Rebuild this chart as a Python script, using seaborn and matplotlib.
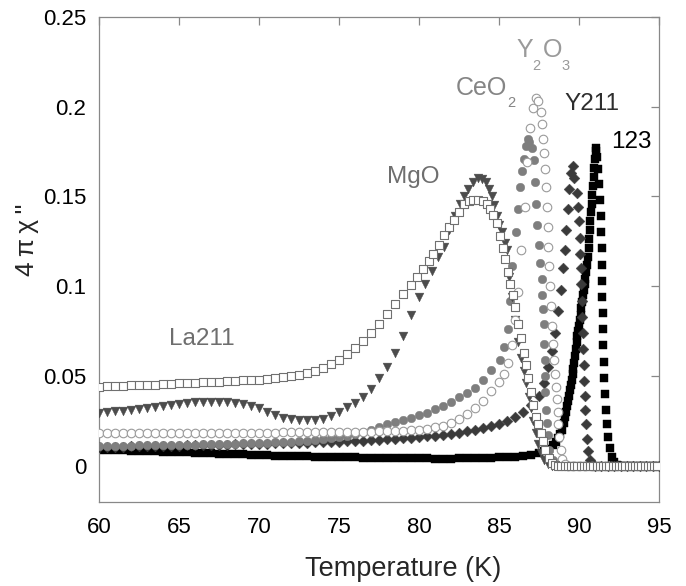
import matplotlib
matplotlib.use("Agg")
import matplotlib.pyplot as plt
import seaborn as sns

# ---- data: temperature (K) and 4*pi*chi'' ----
# 123 (black squares)
t_123 = [60.0, 60.5, 61.0, 61.5, 62.0, 62.5, 63.0, 63.5, 64.0, 64.5,
         65.0, 65.5, 66.0, 66.5, 67.0, 67.5, 68.0, 68.5, 69.0, 69.5,
         70.0, 70.5, 71.0, 71.5, 72.0, 72.5, 73.0, 73.5, 74.0, 74.5,
         75.0, 75.5, 76.0, 76.5, 77.0, 77.5, 78.0, 78.5, 79.0, 79.5,
         80.0, 80.5, 81.0, 81.5, 82.0, 82.5, 83.0, 83.5, 84.0, 84.5,
         85.0, 85.5, 86.0, 86.5, 87.0, 87.5,
         87.8, 88.1, 88.35, 88.55, 88.7, 88.82, 88.94,
         89.05, 89.13, 89.2, 89.27, 89.33, 89.39, 89.45, 89.5, 89.55, 89.6,
         89.65, 89.7, 89.75, 89.8, 89.85, 89.9, 89.95, 90.0, 90.05, 90.1,
         90.15, 90.2, 90.25, 90.3, 90.35, 90.4, 90.45, 90.5, 90.55, 90.6,
         90.64, 90.68, 90.72, 90.76, 90.8, 90.84, 90.88, 90.92, 90.96, 91.0,
         91.04, 91.08,
         91.15, 91.22, 91.28, 91.32, 91.36, 91.39, 91.41, 91.43, 91.45, 91.47,
         91.49, 91.51, 91.53, 91.55, 91.58, 91.62, 91.67, 91.74, 91.82, 91.92,
         92.04, 92.18, 92.35, 92.6, 93.0, 93.4, 93.8, 94.2, 94.6, 95.0]
chi_123 = [.0089, .0088, .0087, .0086, .0084, .0083, .0081, .0080, .0078, .0077,
           .0075, .0074, .0072, .0071, .0069, .0068, .0066, .0065, .0063, .0062,
           .0060, .0059, .0057, .0056, .0055, .0054, .0052, .0051, .0050, .0049,
           .0048, .0047, .0046, .0045, .0044, .0043, .0043, .0042, .0042, .0041,
           .0041, .0041, .0040, .0040, .0040, .0041, .0041, .0042, .0043, .0044,
           .0046, .0048, .0051, .0055, .0061, .0070,
           .0080, .0095, .0115, .0135, .0155, .0175, .020,
           .024, .027, .030, .033, .036, .039, .042, .045, .048, .051,
           .054, .057, .061, .065, .069, .072, .075, .078, .081, .084,
           .088, .091, .095, .098, .101, .104, .108, .112, .116, .121,
           .126, .131, .136, .141, .146, .151, .156, .161, .166, .171,
           .175, .177,
           .172, .165, .157, .148, .139, .130, .121, .112, .103, .094,
           .085, .076, .067, .058, .049, .040, .031, .023, .016, .010,
           .005, .002, .0005, 0, 0, 0, 0, 0, 0, 0]

# Y211 (dark diamonds)
t_y211 = [60.0, 60.5, 61.0, 61.5, 62.0, 62.5, 63.0, 63.5, 64.0, 64.5,
          65.0, 65.5, 66.0, 66.5, 67.0, 67.5, 68.0, 68.5, 69.0, 69.5,
          70.0, 70.5, 71.0, 71.5, 72.0, 72.5, 73.0, 73.5, 74.0, 74.5,
          75.0, 75.5, 76.0, 76.5, 77.0, 77.5, 78.0, 78.5, 79.0, 79.5,
          80.0, 80.5, 81.0, 81.5, 82.0, 82.5, 83.0, 83.5, 84.0, 84.5,
          85.0, 85.5, 86.0, 86.5, 87.0, 87.5,
          87.8, 88.05, 88.3, 88.5, 88.7, 88.85, 89.0, 89.1, 89.2, 89.3,
          89.4, 89.5, 89.6, 89.72, 89.85, 89.95, 90.0, 90.05, 90.08, 90.12,
          90.15, 90.18, 90.2, 90.23, 90.26, 90.29, 90.32, 90.35, 90.39, 90.43,
          90.5, 90.58, 90.7, 90.85, 91.0, 91.4, 91.8, 92.2, 92.6, 93.0,
          93.4, 93.8, 94.2, 94.6, 95.0]
chi_y211 = [.0106, .0106, .0107, .0107, .0108, .0108, .0109, .0109, .0110, .0111,
            .0112, .0113, .0114, .0115, .0116, .0117, .0118, .0119, .0120, .0121,
            .0122, .0123, .0124, .0125, .0126, .0127, .0128, .0130, .0131, .0133,
            .0134, .0136, .0138, .0140, .0142, .0144, .0147, .0150, .0153, .0156,
            .0160, .0164, .0168, .0173, .0178, .0184, .0191, .0199, .0208, .0220,
            .0233, .0250, .0270, .0300, .0340, .0390,
            .046, .055, .064, .074, .086, .098, .110, .120, .131, .143,
            .154, .163, .167, .160, .152, .144, .136, .127, .118, .110,
            .101, .092, .083, .074, .065, .056, .047, .039, .031, .023,
            .015, .008, .003, .0005, 0, 0, 0, 0, 0, 0,
            0, 0, 0, 0, 0]

# CeO2 (grey filled circles)
t_ceo2 = [60.0, 60.5, 61.0, 61.5, 62.0, 62.5, 63.0, 63.5, 64.0, 64.5,
          65.0, 65.5, 66.0, 66.5, 67.0, 67.5, 68.0, 68.5, 69.0, 69.5,
          70.0, 70.5, 71.0, 71.5, 72.0, 72.5, 73.0, 73.5, 74.0, 74.5,
          75.0, 75.5, 76.0, 76.5, 77.0, 77.5, 78.0, 78.5, 79.0, 79.5,
          80.0, 80.5, 81.0, 81.5, 82.0, 82.5, 83.0, 83.5, 84.0, 84.5,
          85.05, 85.3, 85.55, 85.7, 85.8, 86.05, 86.2, 86.3, 86.45, 86.55,
          86.7, 86.8, 86.9, 87.05, 87.2, 87.27, 87.33, 87.4, 87.5, 87.58,
          87.66, 87.7, 87.75, 87.8, 87.82, 87.85, 87.88, 87.9, 87.93, 88.0,
          88.05, 88.15, 88.35, 88.6, 88.9, 89.3, 89.7, 90.1, 90.5, 90.9,
          91.3, 91.7, 92.1, 92.5, 92.9, 93.3, 93.7, 94.1, 94.5, 94.9]
chi_ceo2 = [.0110, .0111, .0111, .0112, .0112, .0113, .0114, .0115, .0115, .0116,
            .0117, .0118, .0118, .0119, .0120, .0121, .0122, .0123, .0124, .0126,
            .0127, .0129, .0131, .0133, .0135, .0137, .0140, .0143, .0147, .0152,
            .0158, .0166, .0176, .0188, .0200, .0217, .0230, .0242, .0254, .0266,
            .0280, .0296, .0314, .0334, .0356, .0380, .0405, .0435, .0475, .0535,
            .059, .066, .076, .092, .111, .130, .143, .155, .164, .171,
            .178, .182, .180, .177, .170, .158, .146, .134, .123, .113,
            .104, .095, .087, .079, .068, .059, .050, .041, .031, .024,
            .017, .009, .003, .0005, 0, 0, 0, 0, 0, 0,
            0, 0, 0, 0, 0, 0, 0, 0, 0, 0]

# MgO (dark grey down triangles)
t_mgo = [60.0, 60.5, 61.0, 61.5, 62.0, 62.5, 63.0, 63.5, 64.0, 64.5,
         65.0, 65.5, 66.0, 66.5, 67.0, 67.5, 68.0, 68.5, 69.0, 69.5,
         70.0, 70.5, 71.0, 71.5, 72.0, 72.5, 73.0, 73.5, 74.0, 74.5,
         75.0, 75.5, 76.0, 76.5, 77.0, 77.5, 78.0, 78.5, 79.0, 79.5,
         80.0, 80.4, 80.8, 81.2, 81.55, 81.9, 82.25, 82.55, 82.8, 83.05,
         83.35, 83.7, 83.95, 84.2, 84.4, 84.55, 84.7, 84.85, 85.0, 85.2,
         85.35, 85.5, 85.65, 85.8, 86.0, 86.2, 86.4, 86.55, 86.7, 86.85,
         87.0, 87.15, 87.3, 87.45, 87.6, 87.8, 88.05, 88.3, 88.7, 89.1,
         89.5, 89.9, 90.3, 90.7, 91.1, 91.5, 91.9, 92.3, 92.7, 93.1,
         93.5, 93.9, 94.3, 94.7]
chi_mgo = [.0295, .0300, .0303, .0306, .0310, .0314, .0320, .0326, .0333, .0339,
           .0344, .0349, .0353, .0356, .0357, .0357, .0354, .0349, .0342, .0332,
           .0320, .0302, .0283, .0268, .0259, .0255, .0254, .0256, .0263, .0278,
           .0300, .0325, .0352, .0380, .0430, .0490, .0550, .0630, .0720, .0840,
           .094, .101, .1085, .116, .122, .131, .139, .146, .150, .154,
           .158, .160, .1595, .158, .154, .150, .145, .139, .134, .130,
           .124, .120, .105, .094, .081, .069, .060, .053, .046, .038,
           .032, .025, .018, .012, .007, .003, .001, 0, 0, 0,
           0, 0, 0, 0, 0, 0, 0, 0, 0, 0,
           0, 0, 0, 0]

# Y2O3 (open circles)
t_y2o3 = [60.0, 60.5, 61.0, 61.5, 62.0, 62.5, 63.0, 63.5, 64.0, 64.5,
          65.0, 65.5, 66.0, 66.5, 67.0, 67.5, 68.0, 68.5, 69.0, 69.5,
          70.0, 70.5, 71.0, 71.5, 72.0, 72.5, 73.0, 73.5, 74.0, 74.5,
          75.0, 75.5, 76.0, 76.5, 77.0, 77.5, 78.0, 78.5, 79.0, 79.5,
          80.0, 80.5, 81.0, 81.5, 82.0, 82.5, 83.0, 83.5, 84.0, 84.5,
          85.0,
          85.3, 85.55, 85.8, 86.0, 86.2, 86.4, 86.6, 86.78, 86.95, 87.1,
          87.3, 87.45, 87.6, 87.7, 87.76, 87.82, 87.88, 87.95, 88.0, 88.05,
          88.08, 88.13, 88.18, 88.23, 88.3, 88.37, 88.43, 88.5, 88.55, 88.6,
          88.66, 88.71, 88.77, 88.85, 88.95, 89.1, 89.3, 89.6, 90.0, 90.4,
          90.8, 91.2, 91.6, 92.0, 92.4, 92.8, 93.2, 93.6, 94.0, 94.4,
          94.8]
chi_y2o3 = [.0184, .0184, .0184, .0184, .0184, .0184, .0184, .0184, .0184, .0184,
            .0184, .0184, .0184, .0184, .0185, .0185, .0185, .0185, .0185, .0185,
            .0185, .0185, .0185, .0186, .0186, .0186, .0186, .0186, .0187, .0187,
            .0187, .0188, .0188, .0189, .0190, .0191, .0192, .0193, .0195, .0197,
            .0199, .0205, .0213, .0223, .0240, .0262, .0290, .0322, .0360, .0415,
            .0465,
            .051, .057, .067, .081, .097, .120, .144, .169, .188, .199,
            .205, .203, .197, .190, .182, .174, .165, .155, .144, .133,
            .122, .111, .100, .089, .078, .068, .059, .051, .044, .037,
            .030, .023, .016, .009, .004, .001, 0, 0, 0, 0,
            0, 0, 0, 0, 0, 0, 0, 0, 0, 0,
            0]

# La211 (open squares)
t_la211 = [60.0, 60.5, 61.0, 61.5, 62.0, 62.5, 63.0, 63.5, 64.0, 64.5,
           65.0, 65.5, 66.0, 66.5, 67.0, 67.5, 68.0, 68.5, 69.0, 69.5,
           70.0, 70.5, 71.0, 71.5, 72.0, 72.5, 73.0, 73.5, 74.0, 74.5,
           75.0, 75.5, 76.0, 76.5, 77.0, 77.5, 78.0, 78.5, 79.0, 79.5,
           79.9, 80.25, 80.6, 80.9, 81.25, 81.55, 81.85, 82.2, 82.5, 82.8,
           83.1, 83.4, 83.7, 84.0, 84.25, 84.45, 84.65, 84.85, 85.05, 85.25,
           85.4, 85.55, 85.7, 85.85, 86.0, 86.2, 86.4, 86.55, 86.67, 86.8,
           87.0, 87.15, 87.3, 87.45, 87.6, 87.75, 87.9, 88.1, 88.3, 88.5,
           88.7, 88.9, 89.1, 89.3, 89.5, 89.7, 89.9, 90.1, 90.3, 90.5,
           90.7, 90.9, 91.1, 91.3, 91.5, 91.7, 91.9, 92.1, 92.3, 92.5,
           92.7, 92.9, 93.1, 93.3, 93.5, 93.7, 93.9, 94.1, 94.3, 94.5,
           94.7, 94.9]
chi_la211 = [.0440, .0442, .0444, .0446, .0447, .0449, .0451, .0452, .0454, .0456,
             .0458, .0460, .0462, .0464, .0466, .0468, .0470, .0472, .0475, .0477,
             .0480, .0484, .0489, .0494, .0500, .0507, .0517, .0530, .0546, .0566,
             .0590, .0620, .0655, .0695, .0740, .0790, .0845, .0900, .0955, .1005,
             .1050, .1095, .1140, .1180, .1230, .1285, .1330, .1370, .1415, .1455,
             .1475, .1480, .1480, .1475, .1460, .1430, .1395, .1350, .1280, .1215,
             .1150, .1080, .1010, .0950, .0886, .0790, .0710, .0630, .0560, .0487,
             .0410, .0340, .0270, .0230, .0180, .0140, .0090, .0045, .0015, .0003,
             0, 0, 0, 0, 0, 0, 0, 0, 0, 0,
             0, 0, 0, 0, 0, 0, 0, 0, 0, 0,
             0, 0, 0, 0, 0, 0, 0, 0, 0, 0,
             0, 0]

x_ticks = [60, 65, 70, 75, 80, 85, 90, 95]
y_ticks = [0, 0.05, 0.1, 0.15, 0.2, 0.25]
y_ticklabels = ["0", "0.05", "0.1", "0.15", "0.2", "0.25"]

sns.set_style("white")
plt.rcParams["font.family"] = ["Liberation Sans", "DejaVu Sans"]

fig, ax = plt.subplots(figsize=(6.86, 5.86), dpi=100)
fig.subplots_adjust(left=0.1443, right=0.9606, bottom=0.1439, top=0.9715)

# filled markers first, open markers on top
sns.scatterplot(x=t_123, y=chi_123, marker="s", s=30, color="black",
                edgecolor="black", linewidth=0.3, ax=ax, zorder=2)
sns.scatterplot(x=t_y211, y=chi_y211, marker="D", s=30, color="#3a3a3a",
                edgecolor="#3a3a3a", linewidth=0.3, ax=ax, zorder=3)
sns.scatterplot(x=t_ceo2, y=chi_ceo2, marker="o", s=38, color="#7e7e7e",
                edgecolor="#7e7e7e", linewidth=0.3, ax=ax, zorder=4)
sns.scatterplot(x=t_mgo, y=chi_mgo, marker="v", s=40, color="#4c4c4c",
                edgecolor="#4c4c4c", linewidth=0.3, ax=ax, zorder=5)
sns.scatterplot(x=t_y2o3, y=chi_y2o3, marker="o", s=38, color="white",
                edgecolor="#9a9a9a", linewidth=0.8, ax=ax, zorder=6)
sns.scatterplot(x=t_la211, y=chi_la211, marker="s", s=30, color="white",
                edgecolor="#707070", linewidth=0.8, ax=ax, zorder=7)

ax.set_xlim(60, 95)
ax.set_ylim(-0.02, 0.25)
ax.set_xticks(x_ticks)
ax.set_yticks(y_ticks)
ax.set_yticklabels(y_ticklabels)
ax.tick_params(direction="in", length=6, width=0.9, color="#888888",
               top=True, right=True, labelsize=16, labelcolor="black")
ax.tick_params(axis="x", pad=11)
ax.tick_params(axis="y", pad=9)
for side in ax.spines.values():
    side.set_color("#888888")
    side.set_linewidth(0.9)

ax.set_xlabel("Temperature (K)", fontsize=19.5)
ax.xaxis.set_label_coords(0.543, -0.112)
ax.set_ylabel("4\u2009π\u2009χ\u2009''", fontsize=19)
ax.yaxis.set_label_coords(-0.108, 0.54)


def chem_label(x, y, pieces, color):
    # pieces: (text, dx pt, dy pt, size) placed relative to a data anchor
    for txt, dx, dy, size in pieces:
        ax.annotate(txt, (x, y), xytext=(dx, dy), textcoords="offset points",
                    fontsize=size, color=color, va="baseline")


chem_label(86.11, 0.2278, [("Y", 0, 0, 18), ("2", 11.5, -9.4, 10.5),
                           ("O", 18.7, 0, 18), ("3", 32.4, -9.4, 10.5)], "#9a9a9a")
chem_label(82.27, 0.2066, [("CeO", 0, 0, 18), ("2", 37.4, -8.6, 10.5)], "#858585")
ax.text(89.1, 0.198, "Y211", fontsize=17.5, color="#2e2e2e")
ax.text(92.0, 0.177, "123", fontsize=17.5, color="black")
ax.text(78.0, 0.1576, "MgO", fontsize=17.5, color="#6e6e6e")
ax.text(64.4, 0.0673, "La211", fontsize=17.5, color="#6e6e6e")

plt.savefig("out.png", dpi=100)
